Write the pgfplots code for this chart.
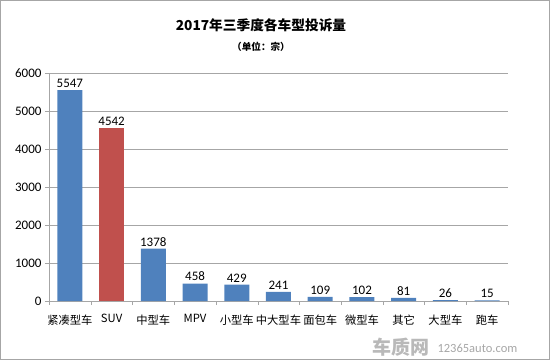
\documentclass[border=0pt]{standalone}
\usepackage{pgfplots}
\pgfplotsset{compat=1.18}
\usepackage{fontspec}
\setmainfont{Carlito}
\newfontfamily\cjk{Noto Sans CJK SC}
\definecolor{barblue}{HTML}{4F81BD}
\definecolor{barred}{HTML}{C0504D}
\definecolor{gridgray}{HTML}{A6A6A6}
\begin{document}
\begin{tikzpicture}[x=1pt,y=1pt]
\draw[gray!70, line width=1pt] (0.5,0.5) rectangle (549.5,359.5);
\node[font=\cjk\bfseries\fontsize{13.7}{16}\selectfont] at (261,335) {2017年三季度各车型投诉量};
\node[font=\cjk\bfseries\fontsize{9.6}{12}\selectfont] at (261,313) {（单位：宗）};
\begin{axis}[
  at={(49pt,59pt)}, anchor=south west,
  scale only axis, width=459pt, height=228pt,
  ybar, bar width=25pt,
  xmin=-0.5, xmax=10.5, ymin=0, ymax=6000,
  ytick={0,1000,...,6000},
  xtick={0,...,10},
  xticklabels={紧凑型车,SUV,中型车,MPV,小型车,中大型车,面包车,微型车,其它,大型车,跑车},
  xticklabel style={font=\cjk\fontsize{11.3}{12}\selectfont, yshift=-6pt},
  minor xtick={-0.5,0.5,...,10.5},
  major x tick style={draw=none},
  minor x tick style={draw=gridgray},
  x tick style={gridgray},
  tick align=outside,
  major tick length=4pt, minor tick length=4pt,
  y tick style={gridgray},
  ymajorgrids, grid style={gridgray, line width=0.6pt},
  yticklabel style={font=\fontsize{13}{14}\selectfont, /pgf/number format/1000 sep={}},
  /pgf/number format/assume math mode=true,
  scaled y ticks=false,
  axis line style={gridgray},
  axis x line*=bottom, axis y line*=left,
  nodes near coords,
  nodes near coords style={font=\fontsize{13}{14}\selectfont, black, /pgf/number format/assume math mode=true, /pgf/number format/1000 sep={}},
  every node near coord/.append style={yshift=-1pt},
  clip=false,
]
\addplot[fill=barblue, draw=none, bar shift=0pt] coordinates {
(0,5547) (2,1378) (3,458) (4,429) (5,241) (6,109) (7,102) (8,81) (9,26) (10,15)};
\addplot[fill=barred, draw=none, bar shift=0pt] coordinates {(1,4542)};
\end{axis}
\node[anchor=east, font=\cjk\bfseries\fontsize{19}{20}\selectfont, text=gray!55] at (433,13) {车质网};
\node[anchor=west, font=\fontsize{12.5}{14}\selectfont, text=gray!70] at (434,12) {12365auto.com};
\end{tikzpicture}
\end{document}
